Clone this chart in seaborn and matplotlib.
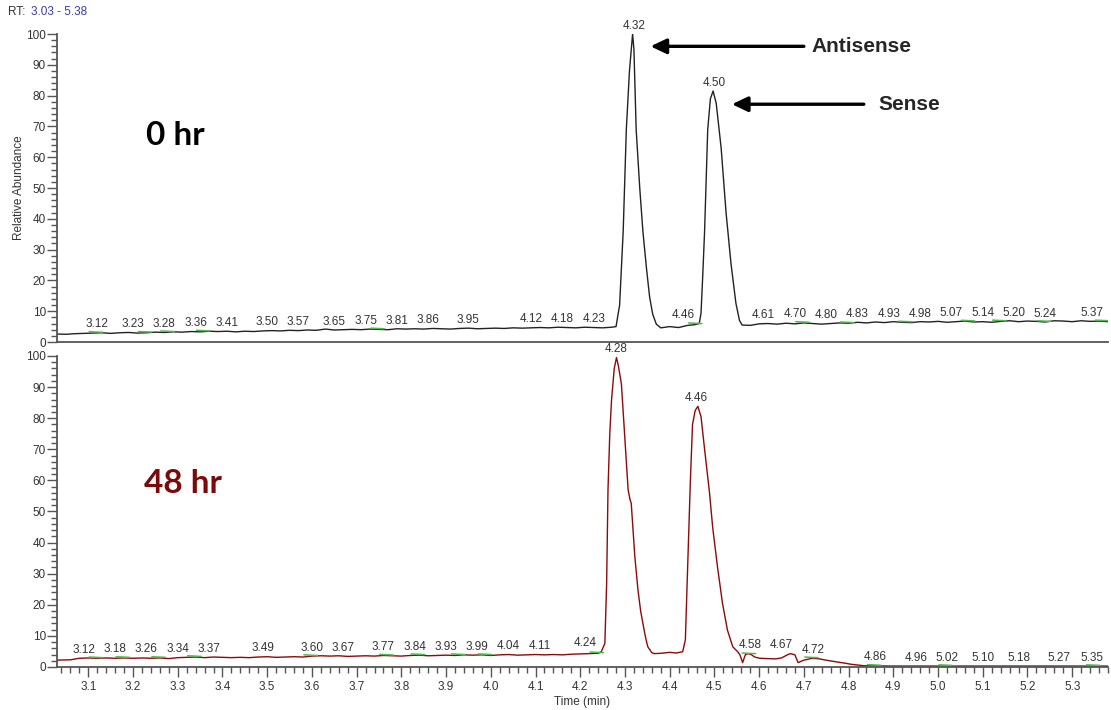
import numpy as np
import matplotlib
matplotlib.use("Agg")
import matplotlib.pyplot as plt
from matplotlib.ticker import MultipleLocator
import seaborn as sns

# chromatogram traces (time in min, relative abundance in %)
t_0hr = [3.03, 3.05, 3.07, 3.09, 3.11, 3.13, 3.15, 3.17, 3.19, 3.21, 3.23, 3.25,
         3.27, 3.29, 3.31, 3.33, 3.35, 3.37, 3.39, 3.41, 3.43, 3.45, 3.47, 3.49,
         3.51, 3.53, 3.55, 3.57, 3.59, 3.61, 3.63, 3.65, 3.67, 3.69, 3.71, 3.73,
         3.75, 3.77, 3.79, 3.81, 3.83, 3.85, 3.87, 3.89, 3.91, 3.93, 3.95, 3.97,
         3.99, 4.01, 4.03, 4.05, 4.07, 4.09, 4.11, 4.13, 4.15, 4.17, 4.19, 4.21,
         4.23, 4.25, 4.27, 4.280, 4.288, 4.296, 4.303, 4.310, 4.317, 4.320, 4.325,
         4.333, 4.340, 4.348, 4.355, 4.362, 4.370, 4.380, 4.40, 4.42, 4.44, 4.455,
         4.466, 4.470, 4.474, 4.478, 4.485, 4.491, 4.497, 4.504, 4.515, 4.526,
         4.537, 4.548, 4.556, 4.562, 4.58, 4.60, 4.62, 4.64, 4.66, 4.68, 4.70,
         4.72, 4.74, 4.76, 4.78, 4.80, 4.82, 4.84, 4.86, 4.88, 4.90, 4.92, 4.94,
         4.96, 4.98, 5.00, 5.02, 5.04, 5.06, 5.08, 5.10, 5.12, 5.14, 5.16, 5.18,
         5.20, 5.22, 5.24, 5.26, 5.28, 5.30, 5.32, 5.34, 5.36, 5.38]
ab_0hr = [2.6, 2.5, 2.7, 2.8, 2.9, 3.0, 2.8, 3.0, 3.1, 2.9, 3.0, 3.2,
          3.1, 3.3, 3.2, 3.4, 3.3, 3.5, 3.4, 3.5, 3.3, 3.5, 3.4, 3.6,
          3.7, 3.6, 3.8, 3.7, 3.9, 3.8, 4.2, 3.9, 4.0, 4.1, 4.0, 4.2,
          4.1, 4.0, 4.3, 4.2, 4.3, 4.2, 4.4, 4.3, 4.2, 4.4, 4.5, 4.3,
          4.4, 4.5, 4.4, 4.6, 4.5, 4.6, 4.7, 4.6, 4.8, 4.7, 4.6, 4.8,
          4.7, 4.6, 4.8, 5.0, 12, 36, 69, 88, 100, 95, 69,
          50, 36, 24, 14.7, 9, 5.8, 4.6, 5.0, 4.7, 5.4, 5.6,
          6.0, 9.3, 22, 36, 69, 79, 81.5, 77.5, 63, 42,
          25.5, 12.6, 7, 5.5, 5.4, 5.9, 6.0, 5.8, 6.1, 5.9, 6.2,
          6.0, 5.8, 6.0, 6.2, 6.1, 6.4, 6.2, 6.5, 6.3, 6.6, 6.4, 6.3,
          6.6, 6.5, 6.7, 6.4, 6.6, 6.8, 6.5, 6.6, 6.4, 6.7, 6.9, 6.6,
          6.8, 6.7, 6.5, 6.9, 6.8, 6.6, 6.9, 6.7, 6.8, 6.6]

t_48hr = [3.03, 3.06, 3.08, 3.10, 3.12, 3.14, 3.16, 3.18, 3.20, 3.22, 3.24, 3.26,
          3.28, 3.30, 3.32, 3.34, 3.36, 3.38, 3.40, 3.42, 3.44, 3.46, 3.48, 3.50,
          3.52, 3.54, 3.56, 3.58, 3.60, 3.62, 3.64, 3.66, 3.68, 3.70, 3.72, 3.74,
          3.76, 3.78, 3.80, 3.82, 3.84, 3.86, 3.88, 3.90, 3.92, 3.94, 3.96, 3.98,
          4.00, 4.02, 4.04, 4.06, 4.08, 4.10, 4.12, 4.14, 4.16, 4.18, 4.20, 4.22,
          4.24, 4.247, 4.255, 4.259, 4.262, 4.266, 4.270, 4.276, 4.281, 4.285,
          4.292, 4.299, 4.307, 4.311, 4.314, 4.322, 4.329, 4.335, 4.340, 4.346,
          4.351, 4.360, 4.366, 4.38, 4.40, 4.415, 4.429, 4.435, 4.440, 4.446,
          4.451, 4.457, 4.463, 4.470, 4.478, 4.489, 4.496, 4.507, 4.518, 4.529,
          4.541, 4.552, 4.557, 4.563, 4.569, 4.575, 4.582, 4.590, 4.601, 4.62,
          4.637, 4.650, 4.663, 4.670, 4.680, 4.687, 4.700, 4.719, 4.735, 4.749,
          4.770, 4.793, 4.804, 4.834, 4.90, 5.00, 5.10, 5.20, 5.30, 5.38]
ab_48hr = [2.2, 2.3, 2.8, 2.9, 2.8, 2.9, 2.8, 2.9, 2.8, 2.9, 2.8, 2.9,
           2.7, 3.0, 3.1, 3.2, 3.0, 3.2, 3.1, 3.0, 3.1, 3.0, 3.2, 3.3,
           3.1, 3.2, 3.3, 3.2, 3.5, 3.6, 3.5, 3.6, 3.4, 3.5, 3.6, 3.5,
           3.7, 3.6, 3.5, 3.7, 3.8, 3.6, 3.7, 3.8, 3.7, 3.9, 3.8, 3.9,
           3.7, 3.9, 4.0, 3.8, 3.9, 4.0, 3.9, 4.0, 3.9, 4.1, 4.2, 4.3,
           4.4, 4.9, 7.6, 27, 57, 75, 86, 96, 99.5, 97,
           91, 75, 57, 54, 52.6, 35.5, 24.8, 18, 14, 9.5,
           6.5, 4.6, 4.3, 4.4, 4.7, 4.5, 4.9, 8.7, 32, 59,
           78, 82.5, 83.8, 80.5, 70, 56, 45, 32, 20.5, 11.9,
           6.5, 4.9, 3.9, 1.4, 3.9, 4.3, 4.0, 3.2, 2.8, 2.7,
           2.6, 2.9, 3.9, 4.3, 3.9, 1.4, 2.2, 2.8, 2.6, 2.2,
           1.7, 1.2, 0.9, 0.4, 0.3, 0.3, 0.3, 0.3, 0.3, 0.3]

# retention time labels printed above the traces
rt_labels_0hr = ["3.12", "3.23", "3.28", "3.36", "3.41", "3.50", "3.57", "3.65", "3.75",
                 "3.81", "3.86", "3.95", "4.12", "4.18", "4.23", "4.32", "4.46", "4.50",
                 "4.61", "4.70", "4.80", "4.83", "4.93", "4.98", "5.07", "5.14", "5.20",
                 "5.24", "5.37"]
rt_labels_48hr = ["3.12", "3.18", "3.26", "3.34", "3.37", "3.49", "3.60", "3.67", "3.77",
                  "3.84", "3.93", "3.99", "4.04", "4.11", "4.24", "4.28", "4.46", "4.58",
                  "4.67", "4.72", "4.86", "4.96", "5.02", "5.10", "5.18", "5.27", "5.35"]
# labels that carry a small green integration mark
marked_0hr = ["3.12", "3.23", "3.28", "3.36", "3.75", "4.46", "4.70", "4.80", "4.93",
              "5.07", "5.14", "5.24", "5.37"]
marked_48hr = ["3.12", "3.18", "3.26", "3.34", "3.60", "3.77", "3.84", "3.93", "3.99",
               "4.24", "4.58", "4.72", "4.86", "5.02", "5.35"]

x_ticks = [3.1, 3.2, 3.3, 3.4, 3.5, 3.6, 3.7, 3.8, 3.9, 4.0, 4.1, 4.2,
           4.3, 4.4, 4.5, 4.6, 4.7, 4.8, 4.9, 5.0, 5.1, 5.2, 5.3]
y_ticks = [0, 10, 20, 30, 40, 50, 60, 70, 80, 90, 100]

sns.set_style("ticks")
plt.rcParams['font.family'] = ['Liberation Sans', 'DejaVu Sans']

TXT = '#333333'
SPINE = '#555555'
RED = '#8b0a0a'
GREEN = '#4cbb4c'
XMIN, XMAX = 3.03, 5.38

fig = plt.figure(figsize=(11.11, 7.10), dpi=100)
ax1 = fig.add_axes([0.0513, 0.5183, 0.9460, 0.4338])
ax2 = fig.add_axes([0.0513, 0.0606, 0.9460, 0.4380])


def draw_trace(ax, t, ab, color):
    sns.lineplot(x=t, y=ab, ax=ax, color=color, lw=1.0, estimator=None, sort=False)
    ax.set_xlim(XMIN, XMAX)
    ax.set_ylim(0, 100)
    ax.set_yticks(y_ticks)
    ax.yaxis.set_minor_locator(MultipleLocator(2))
    ax.tick_params(axis='y', which='major', direction='out', length=7, width=1,
                   color=SPINE, labelsize=8.5, labelcolor=TXT, pad=1)
    ax.tick_params(axis='y', which='minor', direction='out', length=4, width=1, color=SPINE)
    for side in ['top', 'right']:
        ax.spines[side].set_visible(False)
    for side in ['left', 'bottom']:
        ax.spines[side].set_color(SPINE)
        ax.spines[side].set_linewidth(1.3)


def label_peaks(ax, t, ab, labels, marked):
    t = np.asarray(t)
    ab = np.asarray(ab)
    # push crowded labels to the left, like the instrument software does
    xs = [min(float(s), 5.345) for s in labels]
    for i in range(len(xs) - 2, -1, -1):
        xs[i] = min(xs[i], xs[i + 1] - 0.07)
    for x, s in zip(xs, labels):
        rt = float(s)
        near = np.abs(t - rt) <= 0.008
        y = max(np.interp(rt, t, ab), ab[near].max() if near.any() else 0)
        ax.text(x, y + 0.8, s, ha='center', va='bottom', fontsize=8.5,
                color=TXT, clip_on=False)
        if s in marked:
            yb = np.interp(rt, t, ab)
            ax.plot([rt - 0.018, rt + 0.012], [yb + 0.4, yb + 0.2], color=GREEN, lw=1.1)


draw_trace(ax1, t_0hr, ab_0hr, '#222222')
draw_trace(ax2, t_48hr, ab_48hr, RED)
label_peaks(ax1, t_0hr, ab_0hr, rt_labels_0hr, marked_0hr)
label_peaks(ax2, t_48hr, ab_48hr, rt_labels_48hr, marked_48hr)

# top panel: bare baseline, no x ticks
ax1.tick_params(axis='x', which='both', bottom=False, labelbottom=False)
ax1.set_ylabel('Relative Abundance', fontsize=8.5, color=TXT)
ax1.yaxis.set_label_coords(-0.03, 0.5)

ax2.set_xticks(x_ticks)
ax2.set_xticklabels([f"{v:.1f}" for v in x_ticks])
ax2.xaxis.set_minor_locator(MultipleLocator(0.02))
ax2.tick_params(axis='x', which='major', direction='out', length=7, width=1,
                color=SPINE, labelsize=8.5, labelcolor=TXT, pad=3)
ax2.tick_params(axis='x', which='minor', direction='out', length=4, width=1, color=SPINE)
ax2.set_xlabel('Time (min)', fontsize=8.5, color=TXT, labelpad=2)

# sample names
ax1.text(3.228, 67, '0 hr', fontsize=24, fontweight='bold', family='Lato',
         color='black', ha='left', va='center')
ax2.text(3.224, 59, '48 hr', fontsize=24, fontweight='bold', family='Lato',
         color='#7d0a0a', ha='left', va='center')

# strand arrows
arrow = dict(arrowstyle='-|>,head_length=0.95,head_width=0.45', lw=2.4,
             color='black', mutation_scale=10, shrinkA=0, shrinkB=0)
ax1.annotate('', xy=(4.357, 96), xytext=(4.70, 96), arrowprops=arrow)
ax1.annotate('', xy=(4.539, 77.2), xytext=(4.834, 77.2), arrowprops=arrow)
ax1.text(4.716, 96, 'Antisense', fontsize=15, fontweight='bold', ha='left', va='center')
ax1.text(4.867, 77.2, 'Sense', fontsize=15, fontweight='bold', ha='left', va='center')

fig.text(8 / 1111, 1 - 12 / 710, 'RT:', fontsize=8.5, color=TXT, va='center')
fig.text(31 / 1111, 1 - 12 / 710, '3.03 - 5.38', fontsize=8.5, color='#3b3ba8', va='center')

fig.savefig('out.png', dpi=100)
